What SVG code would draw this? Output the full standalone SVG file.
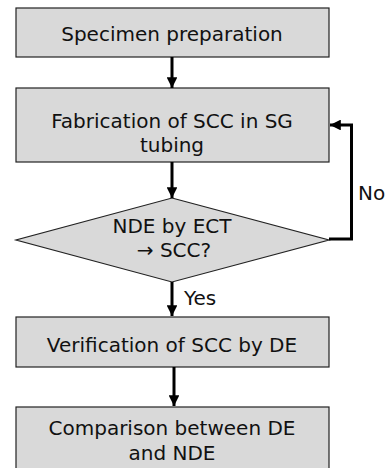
<svg xmlns="http://www.w3.org/2000/svg" width="387" height="468" viewBox="0 0 387 468">
<style>
.box{fill:#d9d9d9;stroke:#222;stroke-width:1.2}
.t{font-family:"DejaVu Sans",sans-serif;font-size:20px;fill:#111;text-anchor:middle}
.l{font-family:"DejaVu Sans",sans-serif;font-size:20px;fill:#111}
.c{fill:none;stroke:#000;stroke-width:3}
</style>
<defs>
<marker id="ah" viewBox="0 0 10 10" refX="10" refY="5" markerWidth="3.6" markerHeight="3.6" orient="auto" markerUnits="strokeWidth">
<path d="M0,0 L10,5 L0,10 Z" fill="#000"/>
</marker>
</defs>
<rect width="387" height="468" fill="#fff"/>
<g id="n1"><rect class="box" x="16" y="8" width="313" height="49"/><text class="t" x="172" y="41">Specimen preparation</text></g>
<g id="n2"><rect class="box" x="16" y="88" width="313" height="74"/><text class="t" x="172" y="128">Fabrication of SCC in SG</text><text class="t" x="172" y="152">tubing</text></g>
<g id="n3"><polygon class="box" points="172,198 329,240 172,282 16,240"/><text class="t" x="172" y="233">NDE by ECT</text><text class="t" x="174" y="257">→ SCC?</text></g>
<g id="n4"><rect class="box" x="16" y="317" width="313" height="50"/><text class="t" x="172" y="352">Verification of SCC by DE</text></g>
<g id="n5"><rect class="box" x="16" y="407" width="313" height="70"/><text class="t" x="172" y="435">Comparison between DE</text><text class="t" x="172" y="460">and NDE</text></g>
<g id="connectors">
<line class="c" x1="172" y1="57" x2="172" y2="88" marker-end="url(#ah)"/>
<line class="c" x1="172" y1="162" x2="172" y2="198" marker-end="url(#ah)"/>
<line class="c" x1="172" y1="282" x2="172" y2="316" marker-end="url(#ah)"/>
<line class="c" x1="174" y1="367" x2="174" y2="406" marker-end="url(#ah)"/>
<polyline class="c" points="329,239 351.5,239 351.5,125 330,125" marker-end="url(#ah)"/>
<text class="l" x="358" y="200">No</text>
<text class="l" x="184" y="305">Yes</text>
</g>
</svg>
